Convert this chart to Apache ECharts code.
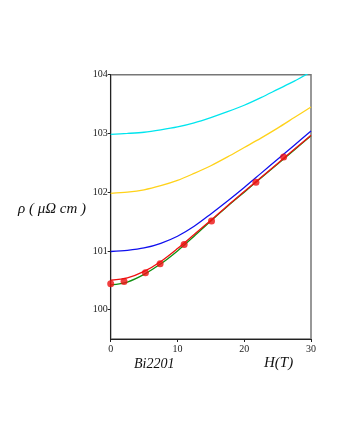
<!DOCTYPE html>
<html><head><meta charset="utf-8">
<script src="https://cdn.jsdelivr.net/npm/echarts@6/dist/echarts.min.js"></script>
<style>html,body{margin:0;padding:0;background:#fff}#c{width:340px;height:440px}</style>
</head><body><div id="c"></div>
<script>
// Field H (T) and resistivity rho (μΩ cm)
const fieldH    = [0, 2.5, 5, 7.5, 10, 12.5, 15, 17.5, 20, 22.5, 25, 27.5, 30];
const cyanRho   = [102.985, 103.00, 103.02, 103.06, 103.11, 103.18, 103.27, 103.37, 103.48, 103.61, 103.75, 103.89, 104.05];
const yellowRho = [101.98, 102.00, 102.04, 102.11, 102.20, 102.32, 102.45, 102.60, 102.76, 102.92, 103.09, 103.27, 103.45];
const blueRho   = [100.99, 101.01, 101.05, 101.13, 101.25, 101.42, 101.63, 101.85, 102.08, 102.32, 102.56, 102.80, 103.04];
const greenRho  = [100.42, 100.47, 100.60, 100.78, 101.00, 101.25, 101.51, 101.76, 102.00, 102.24, 102.48, 102.72, 102.96];
const redRho    = [100.50, 100.54, 100.65, 100.82, 101.04, 101.28, 101.52, 101.77, 102.01, 102.25, 102.49, 102.73, 102.97];
const dotH   = [0, 2.0, 5.2, 7.4, 11.0, 15.1, 21.75, 25.9];
const dotRho = [100.44, 100.48, 100.63, 100.78, 101.11, 101.51, 102.17, 102.60];
const yTicks = [100, 101, 102, 103, 104];
const xTicks = [0, 10, 20, 30];

const pair = (xs, ys) => xs.map((x, i) => [x, ys[i]]);
const serif = '"Liberation Serif", "DejaVu Serif", serif';
function curve(name, ys, color) {
  return { name, type: 'line', data: pair(fieldH, ys), smooth: 0.3, showSymbol: false,
    lineStyle: { color, width: 1.3 }, clip: true, z: 2 };
}
const chart = echarts.init(document.getElementById('c'), null, { renderer: 'canvas' });
chart.setOption({
  animation: false,
  backgroundColor: '#fff',
  grid: { left: 110.7, right: 29, top: 74.7, bottom: 101, show: true, borderColor: '#777', borderWidth: 1.5 },
  xAxis: {
    type: 'value', min: 0, max: 30, interval: 10,
    axisLine: { show: true, onZero: false, lineStyle: { color: '#222', width: 1 } },
    axisTick: { show: true, length: 3, inside: false, lineStyle: { color: '#222' } },
    axisLabel: { color: '#222', fontFamily: serif, fontSize: 10, margin: 5,
      customValues: xTicks },
    splitLine: { show: false }
  },
  yAxis: {
    type: 'value', min: 99.5, max: 104,
    axisLine: { show: true, lineStyle: { color: '#222', width: 1 } },
    axisTick: { show: true, length: 3, customValues: yTicks, lineStyle: { color: '#222' } },
    axisLabel: { color: '#222', fontFamily: serif, fontSize: 10, margin: 3,
      customValues: yTicks },
    splitLine: { show: false }
  },
  series: [
    curve('cyan', cyanRho, '#00e5ee'),
    curve('yellow', yellowRho, '#ffd21a'),
    curve('blue', blueRho, '#1010ee'),
    curve('green', greenRho, '#109010'),
    curve('red', redRho, '#ee1010'),
    { name: 'data', type: 'scatter', data: pair(dotH, dotRho), symbol: 'circle', symbolSize: 7,
      itemStyle: { color: '#ee1010' }, z: 3 }
  ],
  graphic: [
    { type: 'text', left: 18, top: 202, style: { text: 'ρ ( μΩ cm )', font: 'italic 15px ' + serif, fill: '#111' } },
    { type: 'text', left: 134, top: 357, style: { text: 'Bi2201', font: 'italic 14px ' + serif, fill: '#111' } },
    { type: 'text', left: 264, top: 356, style: { text: 'H(T)', font: 'italic 15px ' + serif, fill: '#111' } }
  ]
});
</script></body></html>
